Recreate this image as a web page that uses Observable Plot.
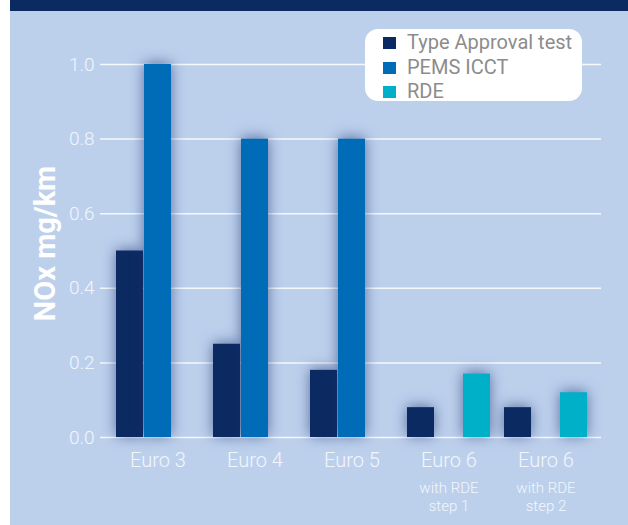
<!DOCTYPE html>
<html>
<head>
<meta charset="utf-8">
<script src="https://cdn.jsdelivr.net/npm/d3@7"></script>
<script src="https://cdn.jsdelivr.net/npm/@observablehq/plot@0.6"></script>
<style>
html, body { margin: 0; padding: 0; background: #ffffff; }
#wrap { position: relative; width: 628px; height: 525px; overflow: hidden; }
#panel { position: absolute; left: 10px; top: 0; width: 618px; height: 525px; background: #bcd0ec; border-top: 11px solid #0b2a62; box-sizing: border-box; }
#chart { position: absolute; left: 0; top: 0; }
#chart svg g[aria-label="bar"] { filter: drop-shadow(0 -1px 7px rgba(25, 45, 110, 0.6)); }
#legend { position: absolute; left: 365px; top: 29px; width: 217px; height: 72px; background: #ffffff; border-radius: 13px; font-family: Roboto, sans-serif; font-size: 20px; font-weight: 400; color: #8c8c8c; z-index: 2; }
#legend .row { position: absolute; left: 0; height: 24.5px; line-height: 24.5px; white-space: nowrap; }
#legend .sw { position: absolute; left: 18px; top: 7px; width: 13px; height: 12px; }
#legend .lbl { position: absolute; left: 42px; top: 0; }
</style>
</head>
<body>
<div id="wrap">
  <div id="panel"></div>
  <div id="chart"></div>
  <div id="legend"></div>
</div>
<script>
// ---- data ----
const categories = ["Euro 3", "Euro 4", "Euro 5", "Euro 6 step 1", "Euro 6 step 2"];
const mainLabels = ["Euro 3", "Euro 4", "Euro 5", "Euro 6", "Euro 6"];
const subLabels = ["", "", "", "with RDE\nstep 1", "with RDE\nstep 2"];
const series = ["Type Approval test", "PEMS ICCT", "RDE"];
const typeApproval = [0.5, 0.25, 0.18, 0.08, 0.08];
const pemsIcct = [1.0, 0.8, 0.8, null, null];
const rde = [null, null, null, 0.17, 0.12];
const yTicks = [0, 0.2, 0.4, 0.6, 0.8, 1.0];
const yLabel = "NOx mg/km";
const colors = ["#0c2a62", "#006cb7", "#00afc8"];

// ---- build rows ----
const seriesValues = [typeApproval, pemsIcct, rde];
const rows = [];
series.forEach((s, si) => {
  categories.forEach((c, ci) => {
    const v = seriesValues[si][ci];
    if (v != null) rows.push({category: c, series: s, si, value: v});
  });
});
const subRows = categories.map((c, i) => ({category: c, sub: subLabels[i]})).filter(d => d.sub);

const slot = 28;
const textColor = "#f2f6fc";

const barMarks = series.map((s, si) =>
  Plot.barY(rows.filter(d => d.si === si), {
    x: "category",
    y: "value",
    fill: colors[si],
    insetLeft: si * slot,
    insetRight: (series.length - 1 - si) * slot
  })
);

const chart = Plot.plot({
  width: 628,
  height: 525,
  marginLeft: 100,
  marginRight: 27,
  marginTop: 64,
  marginBottom: 88,
  style: {background: "transparent", fontFamily: "Roboto, sans-serif", overflow: "visible"},
  x: {domain: categories, paddingInner: 0.142857, paddingOuter: 0.1276, align: 0.54, label: null},
  y: {domain: [0, 1], label: null},
  marks: [
    Plot.gridY(yTicks, {stroke: "#ffffff", strokeOpacity: 0.85, strokeWidth: 1.5}),
    ...barMarks,
    Plot.axisY(yTicks, {
      tickSize: 0, tickPadding: 6, tickFormat: d3.format(".1f"),
      fontSize: 19, fontWeight: 300, color: textColor, label: null
    }),
    Plot.axisX({
      tickSize: 0, tickPadding: 15,
      tickFormat: d => mainLabels[categories.indexOf(d)],
      fontSize: 20, fontWeight: 300, color: textColor, label: null
    }),
    Plot.text(subRows, {
      x: "category", text: "sub", frameAnchor: "bottom", lineAnchor: "top",
      dy: 43, fontSize: 15, fontWeight: 300, lineHeight: 1.2, fill: textColor
    }),
    Plot.text([yLabel], {
      frameAnchor: "left", rotate: -90, dx: -55, dy: -7.5,
      textAnchor: "middle", lineAnchor: "middle",
      fontSize: 29, fontWeight: "bold", fill: "#ffffff"
    })
  ]
});
document.getElementById("chart").appendChild(chart);

// ---- legend ----
const legend = document.getElementById("legend");
series.forEach((s, i) => {
  const row = document.createElement("div");
  row.className = "row";
  row.style.top = (1.2 + i * 24.5) + "px";
  const sw = document.createElement("span");
  sw.className = "sw";
  sw.style.background = colors[i];
  const lbl = document.createElement("span");
  lbl.className = "lbl";
  lbl.textContent = s;
  row.appendChild(sw);
  row.appendChild(lbl);
  legend.appendChild(row);
});
</script>
</body>
</html>
